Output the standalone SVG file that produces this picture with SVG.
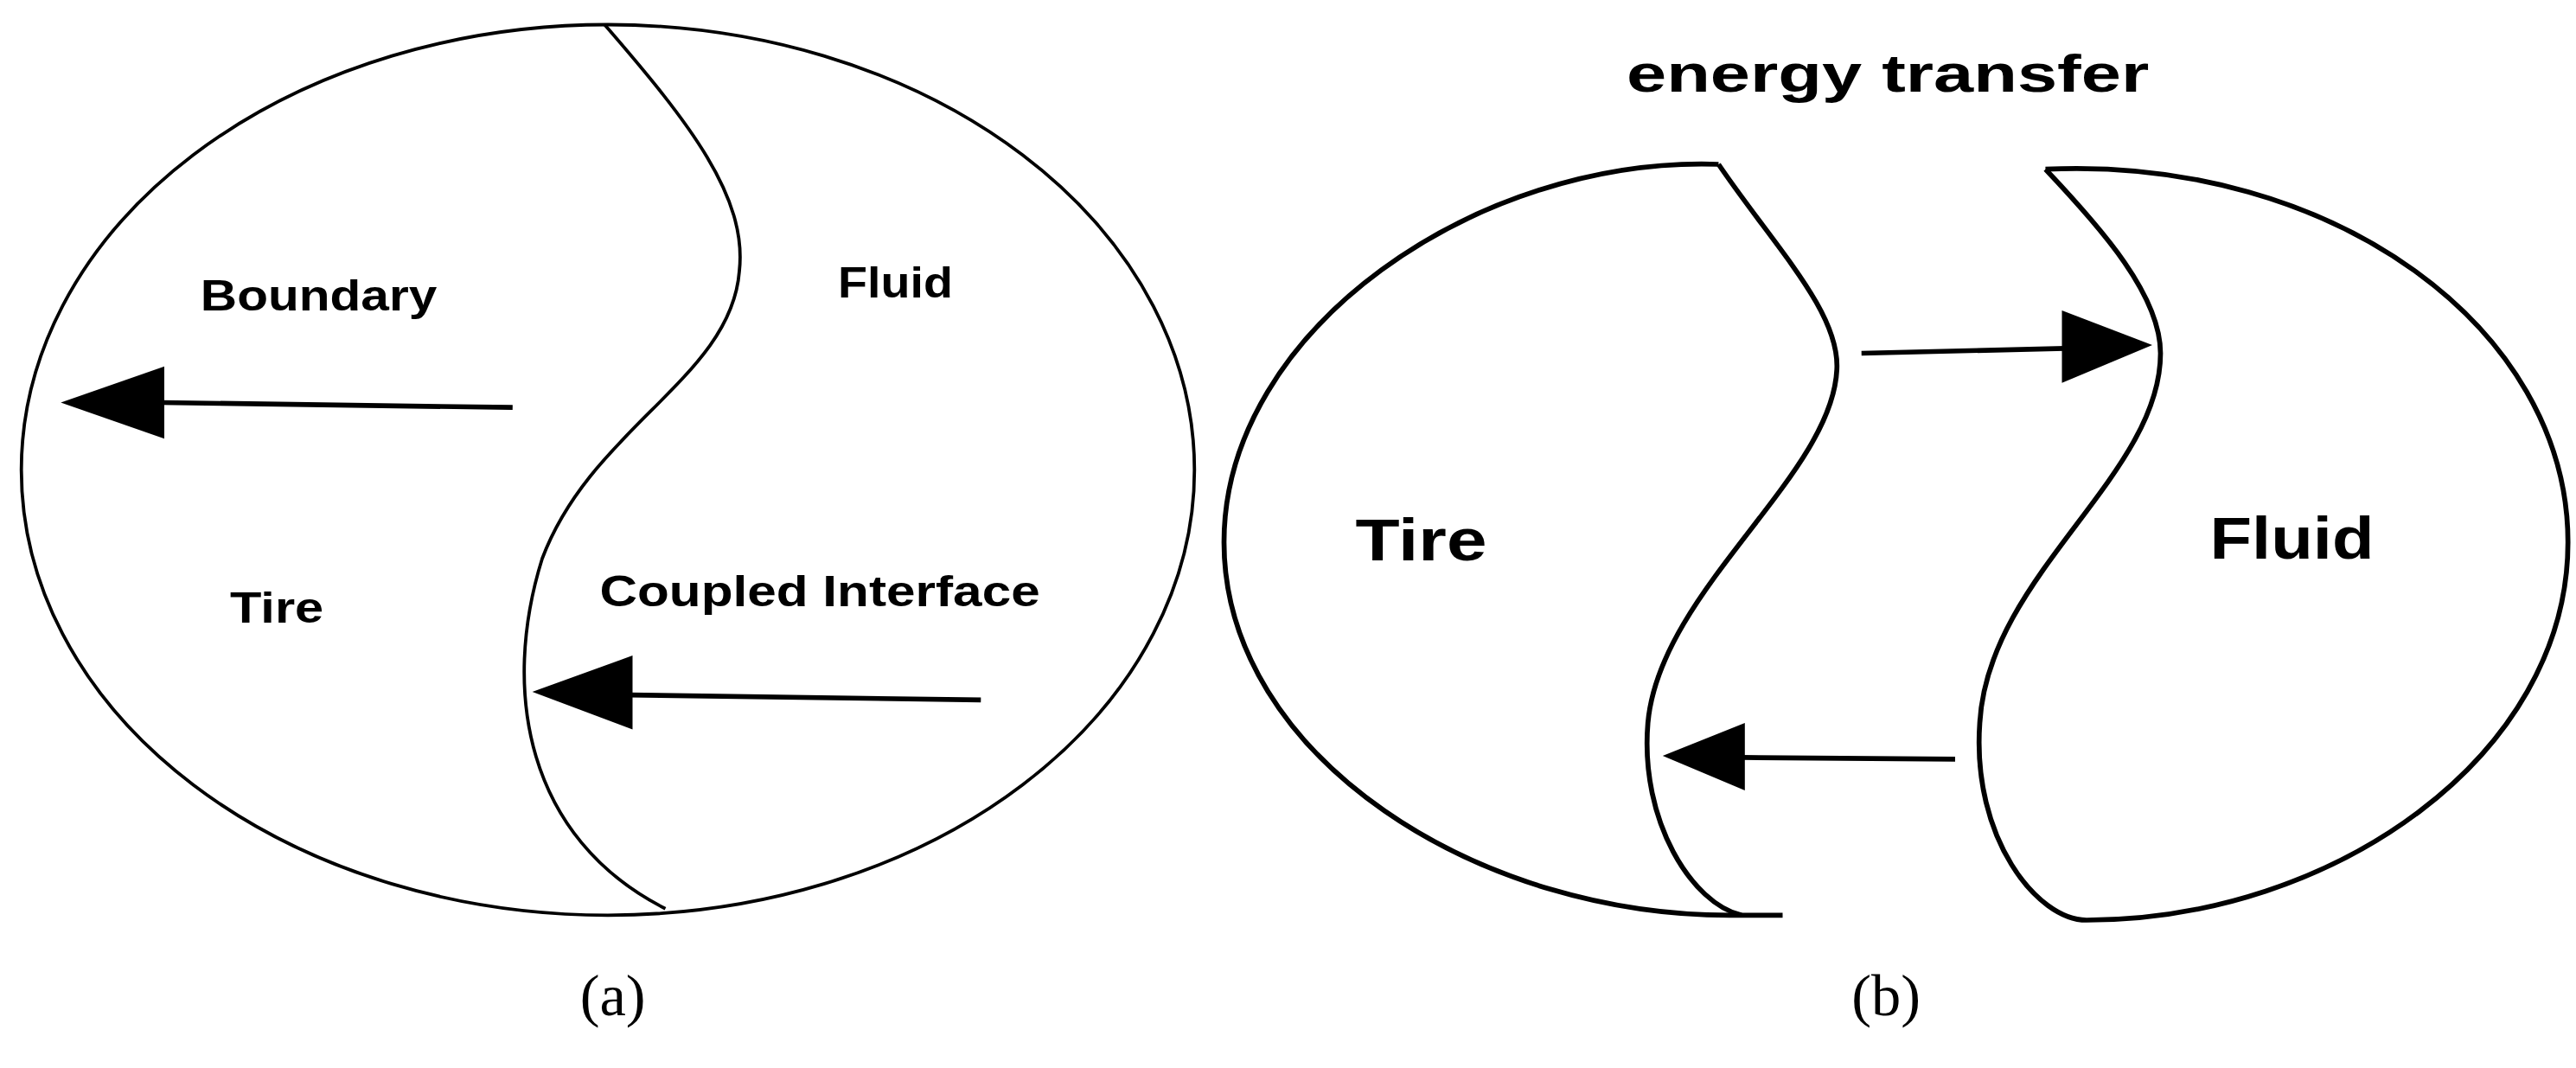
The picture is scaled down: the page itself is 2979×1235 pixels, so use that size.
<svg xmlns="http://www.w3.org/2000/svg" width="2979" height="1235" viewBox="0 0 2979 1235">
<style>
.o{fill:none;stroke:#000;stroke-width:2}
.t{fill:none;stroke:#000;stroke-width:3}
.l{fill:#000;font-family:"Liberation Sans",Arial,sans-serif;font-weight:bold}
.c{fill:#000;font-family:"Liberation Serif","Times New Roman",serif;font-size:36px;text-anchor:middle}
</style>
<rect width="2979" height="1235" fill="#fff"/>
<g transform="scale(1.9)">
<g id="a">
<ellipse class="o" cx="370" cy="286" rx="357" ry="271"/>
<path class="o" d="M368,15 C420,75 455,120 450,165 C445,230 360,260 330,340 C305,420 320,510 405,553"/>
<text class="l" x="122" y="189" font-size="26" textLength="144" lengthAdjust="spacingAndGlyphs">Boundary</text>
<text class="l" x="510" y="181" font-size="26" textLength="70" lengthAdjust="spacingAndGlyphs">Fluid</text>
<text class="l" x="140" y="379" font-size="26" textLength="57" lengthAdjust="spacingAndGlyphs">Tire</text>
<text class="l" x="365" y="369" font-size="26" textLength="268" lengthAdjust="spacingAndGlyphs">Coupled Interface</text>
<text class="c" x="373" y="618">(a)</text>
</g>
<g id="b-tire">
<path class="t" d="M1046,100 C900,95 745,200 745,330 C745,460 900,560 1060,557 L1085,557"/>
<path class="t" d="M1046,100 C1080,150 1120,190 1118,225 C1115,290 1010,360 1003,440 C998,500 1030,550 1060,557"/>
<text class="l" x="825" y="341" font-size="36" textLength="80" lengthAdjust="spacingAndGlyphs">Tire</text>
</g>
<g id="b-fluid">
<path class="t" d="M1245,103 C1420,95 1563,200 1563,330 C1563,460 1420,560 1270,560"/>
<path class="t" d="M1245,103 C1280,140 1315,180 1315,215 C1315,290 1210,350 1205,440 C1200,510 1240,560 1270,560"/>
<text class="l" x="1345" y="340" font-size="36" textLength="100" lengthAdjust="spacingAndGlyphs">Fluid</text>
</g>
<text class="l" x="990" y="56" font-size="32" textLength="318" lengthAdjust="spacingAndGlyphs">energy transfer</text>
<text class="c" x="1148" y="618">(b)</text>
<g id="connectors">
<line class="t" x1="312" y1="248" x2="98" y2="245"/>
<polygon points="37,245 100,223 100,267"/>
<line class="t" x1="597" y1="426" x2="383" y2="423"/>
<polygon points="324,421 385,399 385,444"/>
<line class="t" x1="1133" y1="215" x2="1257" y2="212"/>
<polygon points="1310,210 1255,189 1255,233"/>
<line class="t" x1="1190" y1="462" x2="1060" y2="461"/>
<polygon points="1012,460 1062,440 1062,481"/>
</g>
</g>
</svg>
